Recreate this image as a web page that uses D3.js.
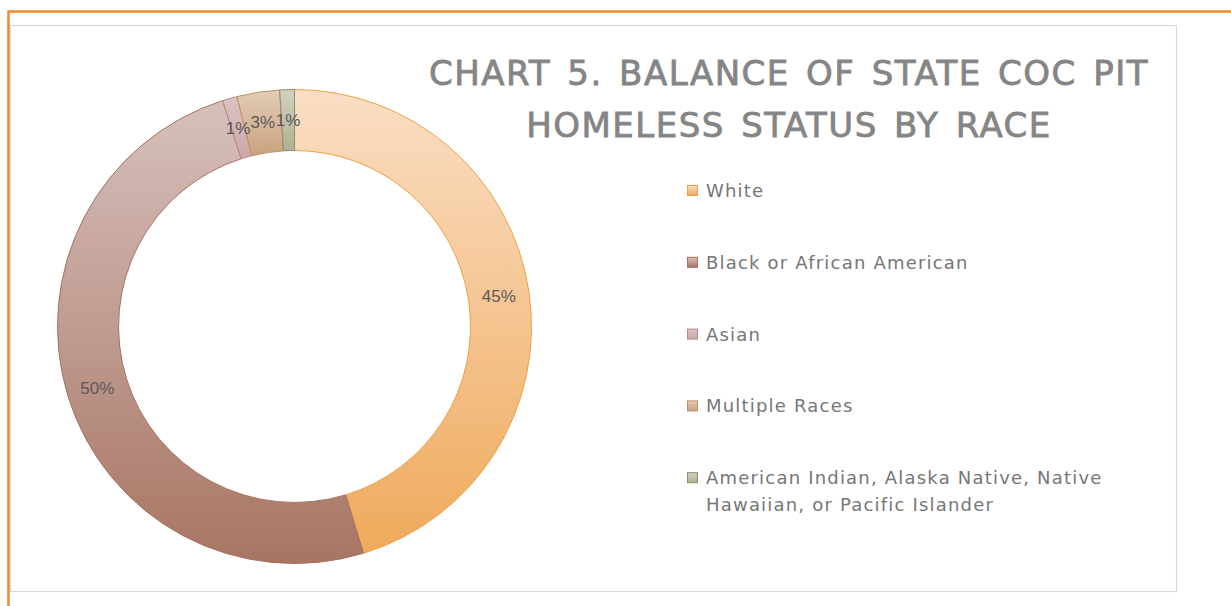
<!DOCTYPE html>
<meta charset="utf-8">
<title>Chart 5</title>
<style>
    body { margin: 0; background: #fff; }
    .pct { font-family: "Liberation Sans Narrow", "Liberation Sans", Arial, sans-serif; font-size: 17px; fill: #595959; }
    .title { font-family: "DejaVu Sans", Verdana, sans-serif; font-size: 34px; fill: #858585; stroke: #858585; stroke-width: 0.8px; letter-spacing: 1.5px; }
    .legend { font-family: "DejaVu Sans", Verdana, sans-serif; font-size: 18px; fill: #767676; letter-spacing: 1.2px; }
</style>
<body>
<div id="chart"></div>
<script src="https://d3js.org/d3.v7.min.js"></script>
<script>
// data (share of homeless count, %)
var categories = ["White", "Black or African American", "Asian", "Multiple Races",
    "American Indian, Alaska Native, Native Hawaiian, or Pacific Islander"];
var values = [45.3, 49.8, 1.0, 2.9, 1.0];
var legendLines = [["White"], ["Black or African American"], ["Asian"], ["Multiple Races"],
    ["American Indian, Alaska Native, Native", "Hawaiian, or Pacific Islander"]];
var titleLines = ["CHART 5. BALANCE OF STATE COC PIT", "HOMELESS STATUS BY RACE"];

var width = 1231, height = 606;

// gradient colours per slice: top, bottom, stroke
var fills = [
    ["#fadec4", "#efaa5c", "#eea245"],
    ["#d6c0bc", "#a87563", "#a87060"],
    ["#dcc3c3", "#cba7a7", "#b88a8a"],
    ["#e2cdb8", "#c9a27f", "#c09060"],
    ["#d2d2c0", "#b0b094", "#8e8e6c"]
];

var svg = d3.select("#chart").append("svg")
    .attr("width", width)
    .attr("height", height);

var defs = svg.append("defs");
fills.forEach(function(f, i) {
    var g = defs.append("linearGradient")
        .attr("id", "grad" + i)
        .attr("x1", 0).attr("y1", 0).attr("x2", 0).attr("y2", 1);
    g.append("stop").attr("offset", "0%").attr("stop-color", f[0]);
    g.append("stop").attr("offset", "100%").attr("stop-color", f[1]);
});

// frames
svg.append("rect")
    .attr("x", 10.5).attr("y", 25.5)
    .attr("width", 1166).attr("height", 566)
    .style("fill", "none")
    .style("stroke", "#d9d9d9")
    .style("stroke-width", 1.2);
svg.append("path")
    .attr("d", "M8.5,606 L8.5,11.5 L1231,11.5")
    .style("fill", "none")
    .style("stroke", "#f5882a")
    .style("stroke-width", 2.5);

// donut
var cx = 294.5, cy = 326.5, rOuter = 237, rInner = 176;
var pie = d3.pie().sort(null).value(function(d) { return d; });
var arc = d3.arc().innerRadius(rInner).outerRadius(rOuter);
var arcs = pie(values);

var g = svg.append("g").attr("transform", "translate(" + cx + "," + cy + ")");
g.selectAll("path.slice")
    .data(arcs)
    .enter().append("path")
    .attr("class", "slice")
    .attr("d", arc)
    .style("fill", function(d, i) { return "url(#grad" + i + ")"; })
    .style("stroke", function(d, i) { return fills[i][2]; })
    .style("stroke-width", 1);

g.selectAll("text.pct")
    .data(arcs)
    .enter().append("text")
    .attr("class", "pct")
    .attr("transform", function(d) { return "translate(" + arc.centroid(d) + ")"; })
    .attr("text-anchor", "middle")
    .attr("dy", "0.35em")
    .text(function(d) { return Math.round(d.data) + "%"; });

// title
svg.selectAll("text.title")
    .data(titleLines)
    .enter().append("text")
    .attr("class", "title")
    .attr("x", 789)
    .attr("y", function(d, i) { return 85 + i * 52; })
    .attr("text-anchor", "middle")
    .style("word-spacing", "4px")
    .text(function(d) { return d; });

// legend
var leg = svg.selectAll("g.leg")
    .data(categories)
    .enter().append("g")
    .attr("class", "leg")
    .attr("transform", function(d, i) { return "translate(687," + (190 + i * 71.8) + ")"; });
leg.append("rect")
    .attr("x", 0.5).attr("y", -4.5)
    .attr("width", 10).attr("height", 10)
    .style("fill", function(d, i) { return "url(#grad" + i + ")"; })
    .style("stroke", function(d, i) { return fills[i][2]; })
    .style("stroke-width", 1);
leg.append("text")
    .attr("class", "legend")
    .attr("x", 19)
    .attr("y", 7)
    .selectAll("tspan")
    .data(function(d, i) { return legendLines[i]; })
    .enter().append("tspan")
    .attr("x", 19)
    .attr("dy", function(d, j) { return j === 0 ? 0 : 27; })
    .text(function(d) { return d; });
</script>
</body>
